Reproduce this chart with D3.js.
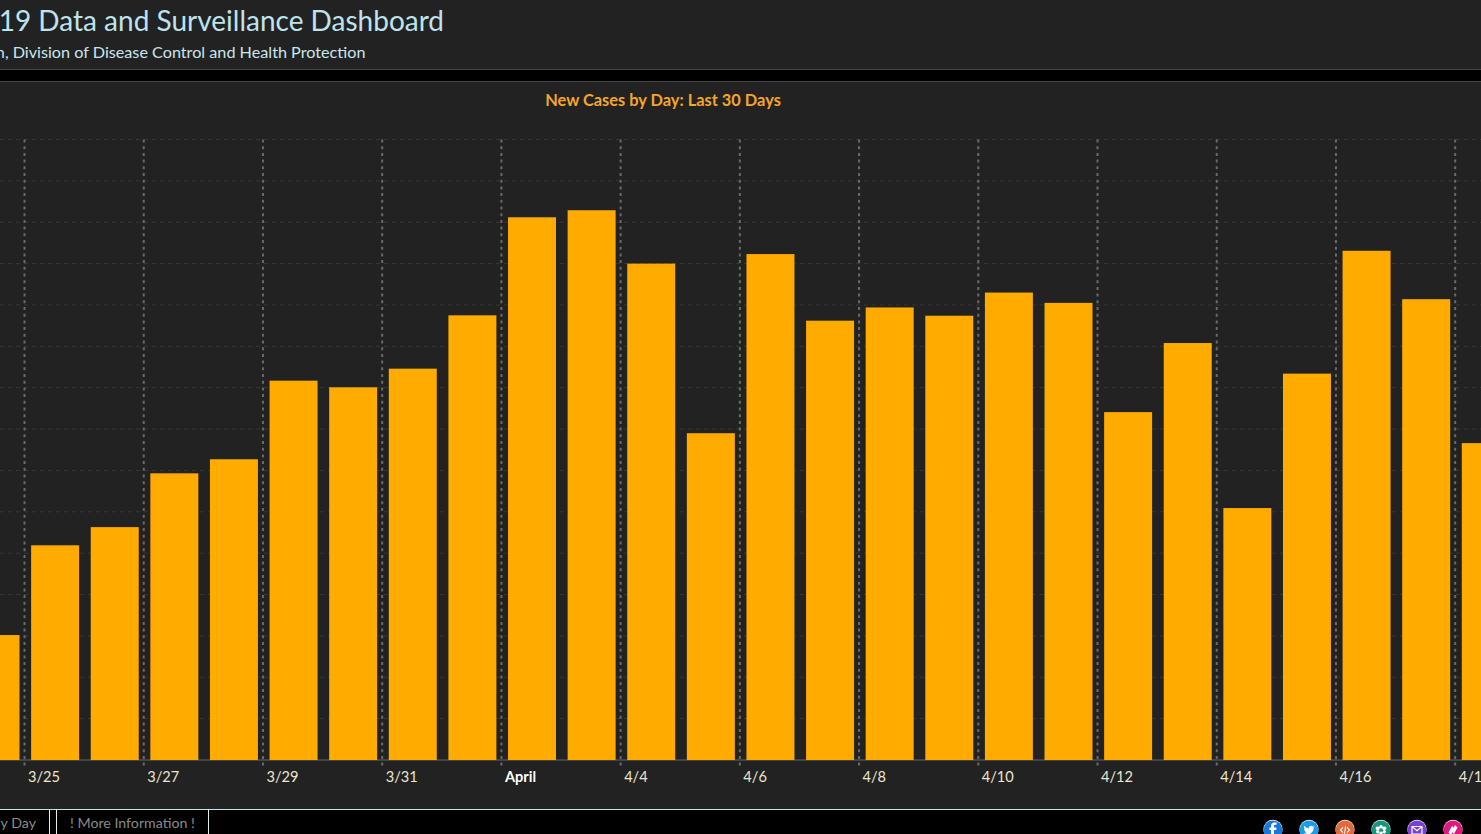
<!DOCTYPE html>
<html>
<head>
<meta charset="utf-8">
<script src="https://cdn.jsdelivr.net/npm/d3@7"></script>
<style>
html,body{margin:0;padding:0;background:#222;overflow:hidden}
svg{display:block}
text{font-family:Lato,"Open Sans",sans-serif}
</style>
</head>
<body>
<svg id="c" width="1481" height="834"></svg>
<script>
const days = ["3/24","3/25","3/26","3/27","3/28","3/29","3/30","3/31","4/1","4/2","4/3","4/4","4/5","4/6","4/7","4/8","4/9","4/10","4/11","4/12","4/13","4/14","4/15","4/16","4/17","4/18"];
const newCases = [302,519,563,693,727,917,901,946,1075,1312,1329,1200,790,1223,1062,1094,1074,1130,1105,841,1008,609,934,1231,1114,766];
const tickDays = ["3/25","3/27","3/29","3/31","4/2","4/4","4/6","4/8","4/10","4/12","4/14","4/16","4/18"];
const tickNames = ["3/25","3/27","3/29","3/31","April","4/4","4/6","4/8","4/10","4/12","4/14","4/16","4/18"];
const valueGrid = d3.range(100,1501,100);
const iconColors = ["#1877d9","#1b9be8","#e4683a","#17957a","#7a3fd4","#e0187f"];
const iconGlyphs = [
  "M1 7V0H3.2L3.5-2.5H1V-4C1-4.8 1.3-5.2 2.2-5.2H3.6V-7.4H1.6C-.9-7.4-1.9-6-1.9-4.2V-2.5H-3.6V0H-1.9V7Z",
  "M-5.5 3.6C-2 5.6 4.6 4.4 4.6-2.2L5.8-3.6 4.2-3.2C3-5-.4-4.4-.2-1.6-2-1.8-3.6-2.8-4.8-4.2-5.4-3-5-1.6-4-.9L-5-1.2C-5 .1-4.2 1-3 1.3L-4 1.4C-3.6 2.4-2.8 2.9-1.8 3-2.8 3.7-4.2 3.9-5.5 3.6Z",
  "M-2.4-3 -5.4 0-2.4 3-1.6 2.2-3.8 0-1.6-2.2ZM2.4-3 5.4 0 2.4 3 1.6 2.2 3.8 0 1.6-2.2ZM-.9 3.8 .1 3.8 1-3.8 0-3.8Z",
  "M0-5A1.7 1.7 0 1 1 0-1.6 1.7 1.7 0 1 1 0-5ZM0 1.6A1.7 1.7 0 1 1 0 5 1.7 1.7 0 1 1 0 1.6ZM-3.3-3.3A1.7 1.7 0 1 1-3.3 0 1.7 1.7 0 1 1-3.3-3.3ZM3.3-3.3A1.7 1.7 0 1 1 3.3 0 1.7 1.7 0 1 1 3.3-3.3ZM-3.3 0A1.7 1.7 0 1 1-3.3 3.4 1.7 1.7 0 1 1-3.3 0ZM3.3 0A1.7 1.7 0 1 1 3.3 3.4 1.7 1.7 0 1 1 3.3 0Z",
  "M-5-3.5H5V4H-5ZM-5-3.5 0 .8 5-3.5",
  "M-4.5 2.5-2 5 1-2-1-4ZM4.5-2.5 2-5-1 2 1 4Z"
];

const svg = d3.select("#c");
const W = 1481;
svg.append("rect").attr("width",W).attr("height",834).attr("fill","#222222");

// header
svg.append("text").attr("x",444).attr("y",31).attr("text-anchor","end")
  .attr("font-size",28).attr("fill","#bde3ee").text("19 Data and Surveillance Dashboard");
svg.append("text").attr("x",365.5).attr("y",58).attr("text-anchor","end")
  .attr("font-size",16.2).attr("fill","#c9e6ee").text("n, Division of Disease Control and Health Protection");
svg.append("rect").attr("y",69).attr("width",W).attr("height",13).attr("fill","#000");
svg.append("rect").attr("y",69).attr("width",W).attr("height",1).attr("fill","#444");
svg.append("rect").attr("y",81).attr("width",W).attr("height",1).attr("fill","#444");

// chart
svg.append("text").attr("x",663).attr("y",106).attr("text-anchor","middle")
  .attr("font-size",16.4).attr("font-weight",700).attr("fill","#f5a52a").text("New Cases by Day: Last 30 Days");

const x = d3.scaleBand().domain(days).range([-34.3,1515.6]).paddingInner(0.195).paddingOuter(0.0975);
const y = d3.scaleLinear().domain([0,1500]).range([760,139.5]);
const tickX = d => x(d) - x.step()*x.paddingInner()/2 - 0.8;

svg.append("g").selectAll("line").data(valueGrid).join("line")
  .attr("x1",0).attr("x2",W).attr("y1",d=>y(d)).attr("y2",d=>y(d))
  .attr("stroke","#383838").attr("stroke-width",1).attr("stroke-dasharray","4 4");

svg.append("g").selectAll("line").data(tickDays).join("line")
  .attr("x1",tickX).attr("x2",tickX).attr("y1",y(1500)).attr("y2",766)
  .attr("stroke","#6a6a6a").attr("stroke-width",2).attr("stroke-dasharray","3 3.7");

svg.append("line").attr("x1",0).attr("x2",W).attr("y1",760).attr("y2",760).attr("stroke","#666").attr("stroke-width",1);

svg.append("g").selectAll("rect").data(days).join("rect")
  .attr("x",d=>x(d)).attr("width",x.bandwidth())
  .attr("y",(d,i)=>y(newCases[i])).attr("height",(d,i)=>y(0)-y(newCases[i]))
  .attr("fill","#ffab00");

svg.append("g").selectAll("text").data(tickDays).join("text")
  .attr("x",d=>tickX(d)+3.5).attr("y",782)
  .attr("font-size",14.6)
  .attr("font-weight",(d,i)=>tickNames[i]==="April"?700:400)
  .attr("fill",(d,i)=>tickNames[i]==="April"?"#ffffff":"#eae6cf")
  .text((d,i)=>tickNames[i]);

// footer
svg.append("rect").attr("y",809).attr("width",W).attr("height",25).attr("fill","#000");
svg.append("rect").attr("y",809).attr("width",W).attr("height",1).attr("fill","#bfe8e4");
[49.5,56.5,208.5].forEach(px=>svg.append("line").attr("x1",px).attr("x2",px).attr("y1",809).attr("y2",834).attr("stroke","#d8efec"));
svg.append("text").attr("x",36).attr("y",828).attr("text-anchor","end").attr("font-size",14.2).attr("fill","#8a8a8a").text("y Day");
svg.append("text").attr("x",70).attr("y",828).attr("font-size",14.2).attr("fill","#8a8a8a").text("! More Information !");

const iconX = d3.scalePoint().domain(iconColors).range([1273,1453]);
const icons = svg.append("g").selectAll("g").data(iconColors).join("g")
  .attr("transform",d=>`translate(${iconX(d)},830)`);
icons.append("circle").attr("r",9.5).attr("cy",-0.8).attr("fill","#fff");
icons.append("circle").attr("r",9.5).attr("fill",d=>d);
icons.append("path").attr("d",(d,i)=>iconGlyphs[i])
  .attr("fill",(d,i)=>i===4?"none":"#fff")
  .attr("stroke",(d,i)=>i===4?"#fff":"none").attr("stroke-width",1.2);
</script>
</body>
</html>
